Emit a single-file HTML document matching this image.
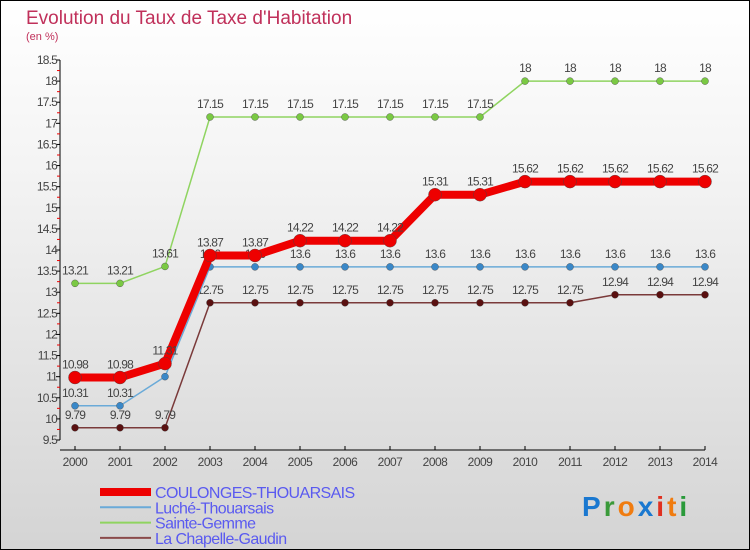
<!DOCTYPE html>
<html><head><meta charset="utf-8"><style>
body{margin:0}
#wrap{width:750px;height:550px;position:relative;box-sizing:border-box;border:1px solid #000;background:linear-gradient(#fff,#f4f4f4 30%,#d4d4d4);font-family:"Liberation Sans",sans-serif;overflow:hidden}
svg{position:absolute;left:-1px;top:-1px}
</style></head><body>
<div id="wrap">
<svg id="c" width="750" height="550">
<text x="26" y="24" font-size="19" fill="#c0305a">Evolution du Taux de Taxe d'Habitation</text>
<text x="26" y="40" font-size="11" fill="#c0305a">(en %)</text>
<g id="axes"></g><g id="series"></g><g id="legend"></g>
<text x="582" y="516" font-size="28" font-weight="bold" letter-spacing="3"><tspan fill="#1a78d0">P</tspan><tspan fill="#3a9a3a">r</tspan><tspan fill="#f07c10">o</tspan><tspan fill="#1a78d0">x</tspan><tspan fill="#e03020">i</tspan><tspan fill="#f07c10">t</tspan><tspan fill="#2a9a3a">i</tspan></text>
</svg></div>
<script>
const years=[2000,2001,2002,2003,2004,2005,2006,2007,2008,2009,2010,2011,2012,2013,2014];
const coulonges=[10.98,10.98,11.31,13.87,13.87,14.22,14.22,14.22,15.31,15.31,15.62,15.62,15.62,15.62,15.62];
const luche=[10.31,10.31,11,13.6,13.6,13.6,13.6,13.6,13.6,13.6,13.6,13.6,13.6,13.6,13.6];
const sainte=[13.21,13.21,13.61,17.15,17.15,17.15,17.15,17.15,17.15,17.15,18,18,18,18,18];
const chapelle=[9.79,9.79,9.79,12.75,12.75,12.75,12.75,12.75,12.75,12.75,12.75,12.75,12.94,12.94,12.94];
const yTicks=[9.5,10,10.5,11,11.5,12,12.5,13,13.5,14,14.5,15,15.5,16,16.5,17,17.5,18,18.5];
const names=["COULONGES-THOUARSAIS","Luché-Thouarsais","Sainte-Gemme","La Chapelle-Gaudin"];
const NS="http://www.w3.org/2000/svg";
const X=i=>75+i*45, Y=v=>440-(v-9.5)*(380/9);
function el(t,a,p){const e=document.createElementNS(NS,t);for(const k in a)e.setAttribute(k,a[k]);p.appendChild(e);return e;}
const ax=document.getElementById('axes');
let l=el('line',{x1:60,y1:60,x2:60,y2:440,stroke:'#000'},ax);


l=el('line',{x1:60,y1:450,x2:705,y2:450,stroke:'#000'},ax);


yTicks.forEach((v,i)=>{
 el('line',{x1:56,x2:60,y1:Y(v),y2:Y(v),stroke:'#000'},ax);
 if(i<yTicks.length-1) el('line',{x1:57,x2:60,y1:Y(v+0.25),y2:Y(v+0.25),stroke:'#e00'},ax);
 const t=el('text',{x:57,y:Y(v)+4,'font-size':12,'text-anchor':'end',fill:'#444','letter-spacing':'-0.8'},ax);
 t.textContent=v;
 
 
});
years.forEach((y,i)=>{
 el('line',{x1:X(i),x2:X(i),y1:446,y2:450,stroke:'#000'},ax);
 const t=el('text',{x:X(i),y:466,'font-size':12,'text-anchor':'middle',fill:'#444','letter-spacing':'-0.5'},ax);
 t.textContent=y;
 
 
});
const sg=document.getElementById('series');
const defs=[[sainte,'#8fd460','#7ac943',1.5,3.5,'sainte-gemme'],[chapelle,'#7a3a3a','#5a1010',1.5,3.5,'la-chapelle-gaudin'],[luche,'#6aaad8','#3a88c8',1.5,3.5,'luche-thouarsais'],[coulonges,'#ee0000','#ee0000',8,6.5,'coulonges-thouarsais']];
defs.forEach(([d,c,mc,w,r,n])=>{
 const g=el('g',{},sg);
 
 
 el('polyline',{points:d.map((v,i)=>X(i)+','+Y(v)).join(' '),fill:'none',stroke:c,'stroke-width':w,'stroke-linejoin':'round'},g);
 d.forEach((v,i)=>{
  const p=el('circle',{cx:X(i),cy:Y(v),r:r,fill:mc,stroke:'#444','stroke-width':0.4},g);
  
  
  const t=el('text',{x:X(i),y:Y(v)-9,'font-size':12,'text-anchor':'middle',fill:'#444','letter-spacing':'-0.8'},g);
  t.textContent=v;
  
  
 });
});
const lg=document.getElementById('legend');
const lc=[['#ee0000',8],['#6aaad8',2],['#8fd460',2],['#8a4a4a',2]];
names.forEach((n,i)=>{
 const y=492+i*15.3;
 const g=el('g',{},lg);
 
 
 el('line',{x1:100,x2:151,y1:y,y2:y,stroke:lc[i][0],'stroke-width':lc[i][1]},g);
 const t=el('text',{x:155,y:y+6,'font-size':16,fill:'#5a5af0','letter-spacing':'-0.6'},g);
 t.textContent=n;
});
</script>
</body></html>
